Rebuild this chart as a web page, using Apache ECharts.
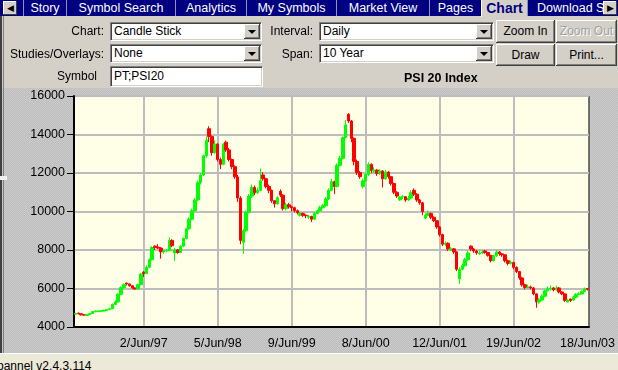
<!DOCTYPE html>
<html><head><meta charset="utf-8">
<script src="https://cdn.jsdelivr.net/npm/echarts@6/dist/echarts.min.js"></script>
<style>
html,body{margin:0;padding:0}
body{width:618px;height:370px;overflow:hidden;background:#d4d0c8;font-family:'Liberation Sans',Arial,sans-serif;position:relative;font-size:12px;color:#000}
.a{position:absolute}
#tabs{left:0;top:0;width:618px;height:16px;background:#000080}
.tab{position:absolute;top:0;height:16px;color:#fff;font-size:12.5px;line-height:16px;text-align:center;border-left:1px solid #9090b8;box-sizing:border-box;white-space:nowrap;overflow:hidden}
.tab.act{background:#d4d0c8;color:#000080;font-weight:bold;font-size:14px;height:17px;border-left:1px solid #fff}
.arr{position:absolute;top:1px;width:14px;height:14px;background:#d4d0c8;box-shadow:inset -1px -1px #404040,inset 1px 1px #fff;font-size:9px;line-height:14px;text-align:center;color:#000}
.lbl{position:absolute;font-size:12px;text-align:right;white-space:nowrap}
.combo{position:absolute;background:#fff;box-sizing:border-box;border:1px solid;border-color:#808080 #fff #fff #808080;box-shadow:inset 1px 1px #404040,inset -1px -1px #d4d0c8;font-size:12px;line-height:16px;padding-left:3px;white-space:nowrap}
.dd{position:absolute;right:1px;top:1px;width:16px;bottom:1px;background:#d4d0c8;box-shadow:inset -1px -1px #404040,inset 1px 1px #fff,inset -2px -2px #808080}
.dd:after{content:"";position:absolute;left:4px;top:6px;border-left:4px solid transparent;border-right:4px solid transparent;border-top:4px solid #000}
.btn{position:absolute;background:#d4d0c8;box-sizing:border-box;box-shadow:inset -1px -1px #404040,inset 1px 1px #fff,inset -2px -2px #808080;font-size:12px;text-align:center;white-space:nowrap}
#chartbg{left:0;top:88px;width:618px;height:265px;background-color:#c4c4c4;background-image:repeating-conic-gradient(#bcbcbc 0 25%,#cccccc 0 50%);background-size:2px 2px}
#status{left:0;top:353px;width:618px;height:17px;background:#ece9d8;border-top:1px solid #fff;box-sizing:border-box}
#chart{left:0;top:0;width:618px;height:370px}
</style></head>
<body>
<div id="chartbg" class="a"></div>
<div id="status" class="a"><span class="a" style="left:-3px;top:5px;font-size:12px">pannel v2.4.3.114</span></div>
<div class="a" style="left:0;top:16px;width:2px;height:337px;background:#404040"></div>
<div class="a" style="left:3px;top:16px;width:1px;height:337px;background:#808080"></div>
<div class="a" style="left:0;top:176px;width:7px;height:4px;background:#f0f0f0"></div>
<div id="chart" class="a"></div>
<div id="tabs" class="a">
  <div class="arr" style="left:3px">&#9664;</div>
  <div class="tab" style="left:23px;width:43px">Story</div>
  <div class="tab" style="left:66px;width:109px">Symbol Search</div>
  <div class="tab" style="left:175px;width:71px">Analytics</div>
  <div class="tab" style="left:246px;width:90px">My Symbols</div>
  <div class="tab" style="left:336px;width:93px">Market View</div>
  <div class="tab" style="left:429px;width:52px">Pages</div>
  <div class="tab act" style="left:481px;width:46px">Chart</div>
  <div class="tab" style="left:527px;width:76px;text-align:left;padding-left:9px">Download S</div>
  <div class="arr" style="left:603px">&#9654;</div>
</div>
<div class="lbl" style="right:514px;top:24px">Chart:</div>
<div class="combo" style="left:110px;top:22px;width:152px;height:19px">Candle Stick<div class="dd"></div></div>
<div class="lbl" style="right:305px;top:24px">Interval:</div>
<div class="combo" style="left:319px;top:22px;width:175px;height:19px">Daily<div class="dd"></div></div>
<div class="btn" style="left:496px;top:20px;width:59px;height:23px;line-height:23px">Zoom In</div>
<div class="btn" style="left:556px;top:20px;width:61px;height:23px;line-height:23px;color:#a0a0a0;text-shadow:1px 1px #fff">Zoom Out</div>
<div class="lbl" style="right:514px;top:47px">Studies/Overlays:</div>
<div class="combo" style="left:110px;top:44px;width:152px;height:19px">None<div class="dd"></div></div>
<div class="lbl" style="right:305px;top:47px">Span:</div>
<div class="combo" style="left:319px;top:44px;width:175px;height:19px">10 Year<div class="dd"></div></div>
<div class="btn" style="left:496px;top:44px;width:59px;height:22px;line-height:22px">Draw</div>
<div class="btn" style="left:556px;top:44px;width:61px;height:22px;line-height:22px">Print...</div>
<div class="lbl" style="right:521px;top:69px">Symbol</div>
<div class="combo" style="left:110px;top:66px;width:153px;height:21px;line-height:18px">PT;PSI20</div>
<script>
// Category axis: one bar per ~2 weeks, June 1996 .. June 2003
const startDate = Date.UTC(1996, 5, 17);
const categories = [];
for (let i = 0; i < 181; i++) {
  const d = new Date(startDate + i * 14 * 86400000);
  categories.push(d.getUTCDate() + '/' + (d.getUTCMonth() + 1) + '/' + d.getUTCFullYear());
}
const tickIndex = [24, 50, 76, 102, 128, 154, 180];
const tickLabels = ['2/Jun/97', '5/Jun/98', '9/Jun/99', '8/Jun/00', '12/Jun/01', '19/Jun/02', '18/Jun/03'];
const yMin = 4000, yMax = 16000, yStep = 2000;

const opens = [4660,4720,4690,4640,4600,4640,4700,4790,4800,4820, 4830,4860,4900,4950,5170,5300,5700,6040,6280,6240,
 6140,6030,5980,6200,6850,6780,7100,7500,8200,8150, 8100,7900,7950,7960,8500,7850,8000,7870,8200,8600,
 9100,9600,10040,10600,11500,11900,12900,14300,13900,13060, 13500,12700,12450,13600,13200,12700,12330,11800,10700,8400,
 9000,9950,10800,11250,10980,11100,11900,11700,11300,11100, 10560,10400,11050,10850,10150,10350,10250,10200,10040,9800,
 9900,9800,9700,9740,9600,9900,10040,10200,10300,10650, 11100,11550,11300,12400,12750,13840,15050,14700,13800,12600,
 12020,11300,11600,11920,12450,12100,12150,11970,12100,11700, 12050,11810,11450,11000,10600,10750,10770,10600,10700,11100,
 10900,10600,10450,9650,9800,9900,9700,9520,9200,8800, 8300,8350,8000,8060,7900,6500,7000,7180,7500,8200,
 8050,7950,7800,7850,7950,7870,7720,7450,7700,7900, 7800,7750,7440,7300,7350,7100,6880,6550,6190,6050,
 6080,6030,5720,5300,5400,5600,5880,5980,6030,5930, 6030,5820,5720,5300,5450,5400,5550,5700,5720,5850,
 6000];
const closes = [4700,4690,4630,4620,4640,4700,4800,4830,4830,4840, 4870,4900,4950,5180,5300,5700,6050,6200,6240,6140,
 6030,5980,6200,6750,6780,7100,7500,8130,8130,8100, 7900,7950,7960,8500,8220,8000,7870,8200,8600,9100,
 9600,10040,10600,11500,11900,12900,13700,13900,13060,13500, 12700,12450,13500,13200,12700,12330,11800,10700,8500,9000,
 9950,10800,11250,10980,11100,11600,11700,11300,11100,10560, 10400,10720,10850,10150,10350,10250,10200,10040,9950,9900,
 9800,9780,9740,9600,9900,10040,10200,10300,10650,11100, 11550,11300,12400,12750,13840,14500,14700,13800,12600,12020,
 11810,11600,11920,12450,12120,12150,11970,12100,11700,12050, 11810,11450,11000,10800,10750,10770,10600,10700,10980,10900,
 10600,10450,10000,9800,9900,9700,9520,9200,8800,8300, 8350,8060,8060,7900,7000,7000,7180,7500,7850,8050,
 7950,7850,7850,7900,7870,7720,7450,7700,7900,7800, 7750,7440,7300,7350,7100,6880,6550,6190,6050,6080,
 6030,5720,5300,5400,5600,5880,5980,6030,5930,6030, 5820,5720,5380,5400,5380,5550,5700,5720,5850,5980,
 5950];
const highs = [4740,4750,4700,4660,4670,4720,4820,4860,4850,4870, 4900,4930,4990,5220,5380,5760,6100,6280,6310,6260,
 6160,6050,6250,6800,6900,7200,7560,8200,8250,8300, 8150,8000,8050,8650,8560,8100,8050,8250,8650,9150,
 9700,10150,10700,11600,12000,12950,13900,14430,13950,13700, 13550,12800,13550,13680,13300,12750,12400,11900,10800,9100,
 10050,10900,11400,11350,11250,12230,12050,11750,11400,11150, 10600,10800,11150,10900,10450,10450,10300,10250,10100,9980,
 9950,9850,9820,9780,9980,10100,10300,10400,10750,11200, 11700,11600,12500,12900,13900,14750,15110,14750,13850,12700,
 12100,11700,12000,12550,12500,12300,12200,12200,12150,12150, 12100,11850,11500,11050,10800,10850,10800,10800,11100,11200,
 10950,10650,10500,9900,10050,9950,9750,9550,9250,8850, 8450,8400,8150,8100,7950,7100,7300,7600,7950,8250,
 8100,8000,7950,8000,8000,7900,7750,7750,8000,7950, 7850,7780,7500,7450,7400,7150,6900,6600,6250,6200,
 6150,6080,5750,5500,5700,5950,6100,6150,6080,6150, 6080,5850,5750,5450,5480,5620,5750,5800,5900,6050,
 6030];
const lows = [4640,4660,4600,4580,4580,4620,4690,4770,4780,4790, 4810,4840,4880,4930,5150,5280,5680,6000,6160,6100,
 5980,5930,5960,6180,6600,6740,7050,7450,8000,8050, 7550,7800,7880,7940,8150,7440,7800,7850,8150,8550,
 9050,9550,10000,10550,11400,11850,12800,13600,12900,13000, 12600,12200,12400,13100,12600,12200,11700,10500,8300,7800,
 8950,9900,10700,10850,10900,11050,11600,11200,10950,10450, 10200,10350,10750,10050,10050,10150,10000,9950,9850,9750,
 9720,9650,9600,9450,9550,9850,10000,10150,10250,10600, 11050,10900,11250,12350,12700,13800,14600,13600,12400,11900,
 11700,11200,11550,11850,12000,12000,11850,11900,11250,11650, 11700,11350,10900,10700,10550,10650,10500,10550,10650,10800,
 10500,10350,9800,9600,9750,9600,9450,9100,8700,8200, 8200,7950,7950,7800,6900,6240,6950,7150,7450,7950,
 7850,7750,7750,7800,7800,7650,7350,7400,7650,7700, 7650,7350,7200,7250,7000,6800,6450,6100,5950,6000,
 5950,5650,5000,5200,5350,5550,5850,5900,5850,5900, 5750,5650,5300,5280,5300,5350,5500,5650,5700,5800,
 5900];

const ohlc = opens.map((o, i) => [o, closes[i], lows[i], highs[i]]);
const isTick = (i) => tickIndex.indexOf(i) >= 0;
const FONT = "'Liberation Sans', Arial, sans-serif";

const chart = echarts.init(document.getElementById('chart'), null, {renderer: 'canvas'});
chart.setOption({
  animation: false,
  backgroundColor: 'transparent',
  title: {text: 'PSI 20 Index', left: 404, top: 72, padding: 0,
    textStyle: {fontSize: 12.5, fontWeight: 'bold', color: '#000', fontFamily: FONT}},
  grid: {left: 74, top: 96, right: 28, bottom: 43, show: true, backgroundColor: '#ffffe8', borderColor: '#000', borderWidth: 1},
  xAxis: {
    type: 'category', data: categories, boundaryGap: true,
    axisLine: {lineStyle: {color: '#000', width: 2}},
    axisTick: {alignWithLabel: true, length: 6, interval: isTick, lineStyle: {color: '#000', width: 1}},
    axisLabel: {interval: isTick, formatter: (v, i) => { const k = tickIndex.indexOf(i); return k >= 0 ? tickLabels[k] : ''; },
      color: '#000', fontSize: 12.5, fontFamily: FONT, margin: 10},
    splitLine: {show: true, alignWithLabel: true, interval: (i) => isTick(i) && i !== 180, lineStyle: {color: '#bdbdbd', width: 2}}
  },
  yAxis: {
    type: 'value', min: yMin, max: yMax, interval: yStep,
    axisLine: {show: true, lineStyle: {color: '#000', width: 2}},
    axisTick: {show: true, length: 7, lineStyle: {color: '#000', width: 1}},
    axisLabel: {color: '#000', fontSize: 12.5, fontFamily: FONT, margin: 9, formatter: (v) => String(v)},
    splitLine: {lineStyle: {color: '#bdbdbd', width: 2}}
  },
  series: [{
    type: 'candlestick', data: ohlc, barWidth: 3,
    itemStyle: {color: '#00ff00', color0: '#ff0000', borderColor: '#00ff00', borderColor0: '#ff0000', borderWidth: 1}
  }]
});
</script>
</body></html>
